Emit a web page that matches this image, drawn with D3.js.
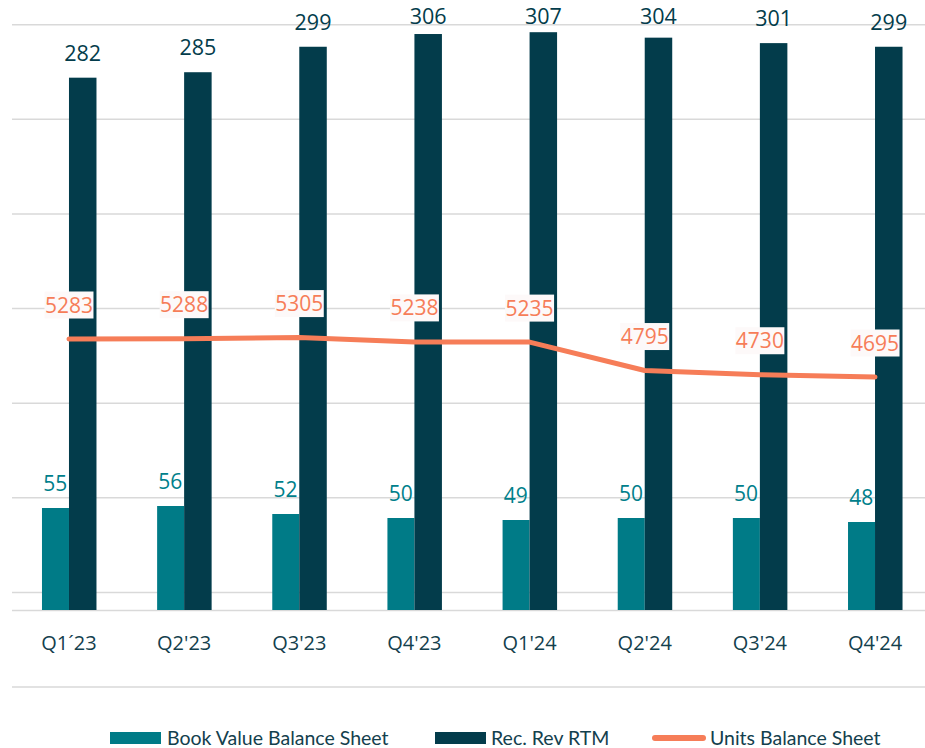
<!DOCTYPE html>
<html><head><meta charset="utf-8">
<script src="https://cdn.jsdelivr.net/npm/d3@7"></script>
<style>body{margin:0;background:#fff}</style>
</head><body>
<svg id="c" width="925" height="748"></svg>
<script>
const categories = ["Q1´23","Q2'23","Q3'23","Q4'23","Q1'24","Q2'24","Q3'24","Q4'24"];
const bookValue = [55,56,52,50,49,50,50,48];
const recRev = [282,285,299,306,307,304,301,299];
const units = [5283,5288,5305,5238,5235,4795,4730,4695];
const gridTicks = [0,1,2,3,4,5,6,7];
const seriesNames = ["Book Value Balance Sheet","Rec. Rev RTM","Units Balance Sheet"];

const C = {book:"#007B87", rev:"#033C4B", line:"#F67D58", grid:"#D9D9D9", cat:"#13404D"};
const svg = d3.select("#c");
svg.append("rect").attr("width",925).attr("height",748).attr("fill","#fff");

const x = d3.scaleBand().domain(categories).range([11.4, 932.6]).padding(0);
const cx = c => x(c) + x.bandwidth()/2;
const bw = 27.5;
const yRev = d3.scaleLinear().domain([-10.6, 307]).range([610, 32.2]);
const yBook = d3.scaleLinear().domain([4, 56]).range([610, 506]);
const yUnits = d3.scaleLinear().domain([4695, 5283]).range([377, 339]);
const yGrid = d3.scaleLinear().domain([0, 7]).range([687, 24.7]);

// gridlines
svg.append("g").selectAll("line").data(gridTicks).join("line")
  .attr("x1", 12).attr("x2", 925)
  .attr("y1", d => yGrid(d)).attr("y2", d => yGrid(d))
  .attr("stroke", C.grid).attr("stroke-width", 1.5);

// category axis baseline
svg.append("line").attr("x1",12).attr("x2",925).attr("y1",610.5).attr("y2",610.5)
  .attr("stroke",C.grid).attr("stroke-width",1.5);

// book bars
svg.append("g").selectAll("rect").data(bookValue).join("rect")
  .attr("x",(d,i)=>cx(categories[i])-bw+0.5).attr("width",bw-0.5)
  .attr("y",d=>yBook(d)).attr("height",d=>610-yBook(d)).attr("fill",C.book);
// rev bars
svg.append("g").selectAll("rect").data(recRev).join("rect")
  .attr("x",(d,i)=>cx(categories[i])).attr("width",bw)
  .attr("y",d=>yRev(d)).attr("height",d=>610-yRev(d)).attr("fill",C.rev);

// labels
const fontLab = "'Open Sans', sans-serif";
svg.append("g").selectAll("text").data(recRev).join("text")
  .attr("x",(d,i)=>cx(categories[i])+bw/2).attr("y",d=>Math.max(yRev(d)-17, 23.5))
  .attr("text-anchor","middle").attr("font-family",fontLab).attr("font-size",21.5)
  .attr("fill",C.rev).text(d=>d);
svg.append("g").selectAll("text").data(bookValue).join("text")
  .attr("x",(d,i)=>cx(categories[i])-bw/2).attr("y",d=>yBook(d)-17)
  .attr("text-anchor","middle").attr("font-family",fontLab).attr("font-size",21)
  .attr("fill","#00808B").text(d=>d);

// line
const line = d3.line().x((d,i)=>cx(categories[i])).y(d=>yUnits(d));
svg.append("path").datum(units).attr("d",line).attr("fill","none")
  .attr("stroke",C.line).attr("stroke-width",5).attr("stroke-linecap","round").attr("stroke-linejoin","round");

const lg = svg.append("g").selectAll("g").data(units).join("g")
  .attr("transform",(d,i)=>`translate(${cx(categories[i])},${yUnits(d)-34})`);
lg.append("rect").attr("x",-24.5).attr("y",-13.5).attr("width",49).attr("height",27).attr("fill","#FDF9F9");
lg.append("text").attr("text-anchor","middle").attr("dy","0.36em")
  .attr("font-family",fontLab).attr("font-size",21).attr("fill",C.line).text(d=>d);

// category labels
svg.append("g").selectAll("text").data(categories).join("text")
  .attr("x",d=>cx(d)).attr("y",650).attr("text-anchor","middle")
  .attr("font-family",fontLab).attr("font-size",20).attr("fill",C.cat).text(d=>d);

// legend
const legItems = [
  {name:seriesNames[0], color:C.book, type:"rect", sx:110, tx:167},
  {name:seriesNames[1], color:C.rev, type:"rect", sx:435, tx:491},
  {name:seriesNames[2], color:C.line, type:"line", sx:652, tx:710}
];
const leg = svg.append("g");
legItems.forEach(it=>{
  if(it.type==="rect"){
    leg.append("rect").attr("x",it.sx).attr("y",732).attr("width",51).attr("height",12).attr("fill",it.color);
  } else {
    leg.append("line").attr("x1",it.sx+3).attr("x2",it.sx+51).attr("y1",738).attr("y2",738)
      .attr("stroke",it.color).attr("stroke-width",6).attr("stroke-linecap","round");
  }
  leg.append("text").attr("x",it.tx).attr("y",738).attr("dy","0.35em")
    .attr("font-family","Lato, sans-serif").attr("font-size",19.5).attr("fill",C.cat).text(it.name);
});
</script>
</body></html>
